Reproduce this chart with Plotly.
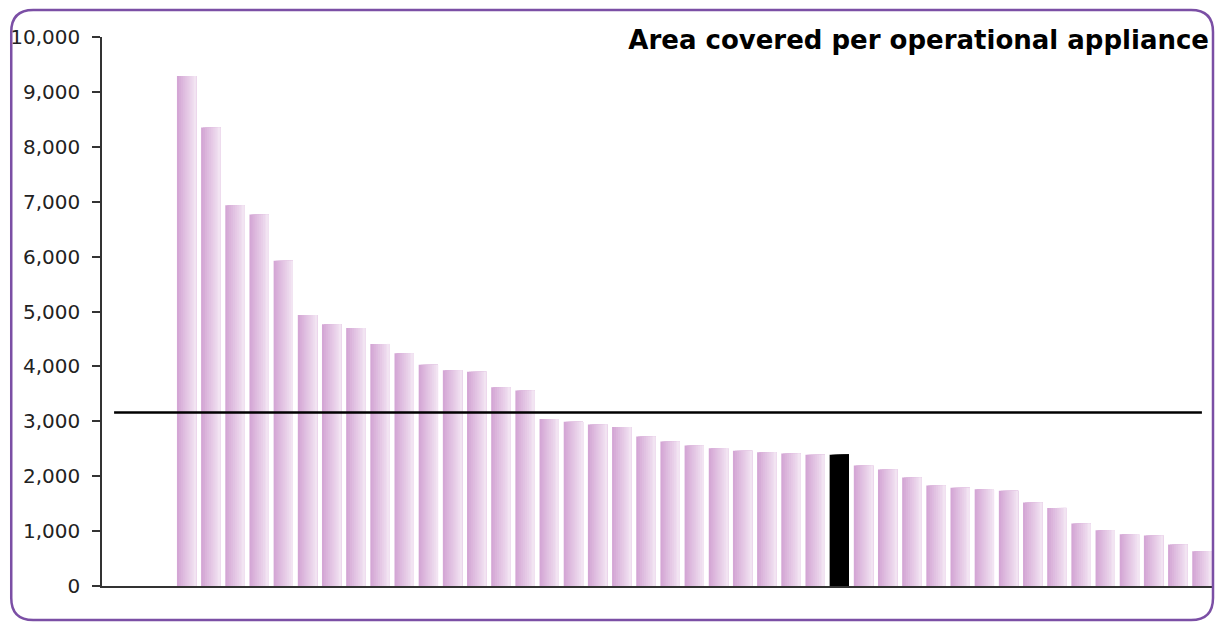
import plotly.graph_objects as go

# ---------------- data ----------------
title_text = "Area covered per operational appliance"
area_values = [9290, 8350, 6935, 6765, 5925, 4935, 4770, 4700, 4410, 4240,
               4028, 3928, 3903, 3618, 3563, 3040, 2991, 2943, 2894, 2724,
               2633, 2560, 2511, 2462, 2438, 2414, 2389, 2389, 2195, 2122,
               1977, 1831, 1788, 1763, 1733, 1520, 1423, 1138, 1016, 943,
               919, 755, 633]
highlight_index = 27          # the black bar
average_value = 3160          # horizontal reference line
leading_empty_slots = 3       # empty category slots before first bar
y_ticks = [0, 1000, 2000, 3000, 4000, 5000, 6000, 7000, 8000, 9000, 10000]

# ---------------- layout constants ----------------
W, H = 1224, 622
ML, MR, MT, MB = 99, 10, 37, 36
PW, PH = W - ML - MR, H - MT - MB
FONT = "DejaVu Sans"

n = len(area_values)
x_pos = list(range(n))

fig = go.Figure()

# gradient bars emulated with overlapping strips (left dark -> right light)
c_left = (212, 166, 213)
c_right = (242, 228, 242)
n_strips = 10
bar_w = 0.8
for k in range(n_strips):
    t = k / (n_strips - 1)
    r = round(c_left[0] + (c_right[0] - c_left[0]) * t)
    g = round(c_left[1] + (c_right[1] - c_left[1]) * t)
    b = round(c_left[2] + (c_right[2] - c_left[2]) * t)
    col = f"rgb({r},{g},{b})"
    colors = ["#000000" if i == highlight_index else col for i in range(n)]
    start = -bar_w / 2 + k * bar_w / n_strips
    fig.add_trace(go.Bar(
        x=x_pos, y=area_values,
        offset=start, width=bar_w / 2 - start,
        marker=dict(color=colors, line=dict(width=0)),
        showlegend=False, hoverinfo="y" if k == 0 else "skip",
    ))

# average line spanning all category slots
fig.add_trace(go.Scatter(
    x=[-leading_empty_slots, n - 1], y=[average_value, average_value],
    mode="lines", line=dict(color="#000000", width=2.4),
    showlegend=False, hoverinfo="skip",
))

# rounded purple border (pixel -> paper conversion)
def px(xp):
    return (xp - ML) / PW

def py(yp):
    return (H - MB - yp) / PH

bl, bt, br, bb, rad = 8, 10, 1213, 620, 22
path = (
    f"M {px(bl + rad)} {py(bt)} "
    f"L {px(br - rad)} {py(bt)} "
    f"Q {px(br)} {py(bt)} {px(br)} {py(bt + rad)} "
    f"L {px(br)} {py(bb - rad)} "
    f"Q {px(br)} {py(bb)} {px(br - rad)} {py(bb)} "
    f"L {px(bl + rad)} {py(bb)} "
    f"Q {px(bl)} {py(bb)} {px(bl)} {py(bb - rad)} "
    f"L {px(bl)} {py(bt + rad)} "
    f"Q {px(bl)} {py(bt)} {px(bl + rad)} {py(bt)} Z"
)
fig.add_shape(type="path", path=path, xref="paper", yref="paper",
              line=dict(color="#7b4fa5", width=2.5), fillcolor="rgba(0,0,0,0)",
              layer="above")

fig.update_layout(
    width=W, height=H,
    margin=dict(l=ML, r=MR, t=MT, b=MB, pad=0),
    paper_bgcolor="white", plot_bgcolor="white",
    barmode="overlay",
    font=dict(family=FONT, color="#222222"),
    title=dict(text=f"<b>{title_text}</b>", xref="container", yref="container",
               x=1209 / W, xanchor="right", y=1 - 40 / H, yanchor="middle",
               font=dict(family=FONT, size=26, color="#000000")),
    xaxis=dict(range=[-leading_empty_slots - 0.5, n - 0.5], showgrid=False,
               zeroline=False, showticklabels=False, ticks="",
               showline=True, linecolor="#333333", linewidth=1.5),
    yaxis=dict(range=[0, 10000], tickvals=y_ticks, tickformat=",",
               showgrid=False, zeroline=False, ticks="outside", ticklen=8,
               tickwidth=1.5, tickcolor="#333333",
               showline=True, linecolor="#333333", linewidth=1.5,
               tickfont=dict(family=FONT, size=20, color="#222222"),
               ticklabelstandoff=8),
)

fig.write_html(
    "out.html",
    config={"displayModeBar": False},
    post_script="document.body.style.margin='0px';document.body.style.overflow='hidden';",
)
